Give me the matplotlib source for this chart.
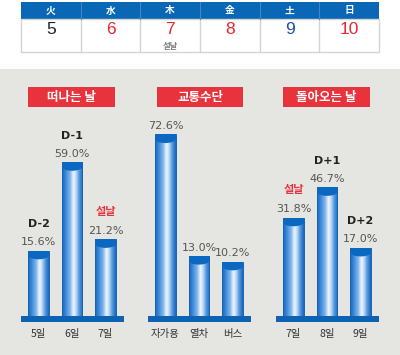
import numpy as np
import matplotlib
matplotlib.use("Agg")
import matplotlib.pyplot as plt
from matplotlib.patches import Rectangle, Ellipse
from matplotlib.colors import LinearSegmentedColormap

plt.rcParams['font.family'] = ['Noto Sans CJK KR', 'DejaVu Sans']

# ---- data ----
cal_days = ['火', '水', '木', '金', '土', '日']
cal_dates = ['5', '6', '7', '8', '9', '10']
cal_colors = ['#222222', '#e8262e', '#e8262e', '#e8262e', '#1f4fa8', '#e8262e']
cal_note = {2: '설날'}

panel_titles = ['떠나는 날', '교통수단', '돌아오는 날']
panel_cats = [['5일', '6일', '7일'], ['자가용', '열차', '버스'], ['7일', '8일', '9일']]
panel_vals = [[15.6, 59.0, 21.2], [72.6, 13.0, 10.2], [31.8, 46.7, 17.0]]
panel_tags = [['D-2', 'D-1', '설날'], ['', '', ''], ['설날', 'D+1', 'D+2']]

W, H = 400, 355
fig = plt.figure(figsize=(W / 100, H / 100), dpi=100)
fig.patch.set_facecolor('white')

def fx(px):
    return px / W

def fy(py):
    return 1 - py / H

# background grey area
fig.patches.append(Rectangle((0, 0), 1, fy(69), transform=fig.transFigure,
                             facecolor='#e5e5e2', edgecolor='none', zorder=0))

# ---- calendar ----
cx0, cx1 = 21, 379
colw = (cx1 - cx0) / 6
fig.patches.append(Rectangle((fx(cx0), fy(19)), fx(cx1 - cx0), (19 - 2) / H,
                             transform=fig.transFigure, facecolor='#0a67b5',
                             edgecolor='none', zorder=1))
fig.patches.append(Rectangle((fx(cx0), fy(52)), fx(cx1 - cx0), (52 - 19) / H,
                             transform=fig.transFigure, facecolor='white',
                             edgecolor='#d4d4d4', lw=1, zorder=1))
for i in range(6):
    xc = cx0 + colw * (i + 0.5)
    if i > 0:
        xl = cx0 + colw * i
        fig.add_artist(plt.Line2D([fx(xl), fx(xl)], [fy(52), fy(19)],
                                  transform=fig.transFigure, color='#d4d4d4', lw=1))
        fig.add_artist(plt.Line2D([fx(xl), fx(xl)], [fy(19), fy(2)],
                                  transform=fig.transFigure, color='#3f86c8', lw=0.8))
    fig.text(fx(xc), fy(10.5), cal_days[i], color='white', fontsize=7,
             ha='center', va='center', fontweight='bold')
    fig.text(fx(xc), fy(29.8), cal_dates[i], color=cal_colors[i], fontsize=12.5,
             ha='center', va='center', family=['Liberation Sans', 'DejaVu Sans'])
    if i in cal_note:
        fig.text(fx(xc), fy(46), cal_note[i], color='#808080', fontsize=6,
                 ha='center', va='center', fontweight='bold')

# ---- bar panels ----
grad = LinearSegmentedColormap.from_list('cyl', [
    (0.0, '#1a66bd'), (0.15, '#3584d6'), (0.38, '#7db4ea'),
    (0.55, '#eef6ff'), (0.66, '#c4ddf6'), (0.82, '#5a9be0'), (1.0, '#1a66bd')])
gimg = np.linspace(0, 1, 64)[None, :]

px_per_unit = 2.04
base_off = 16.4          # bars grow from below zero (visual offset)
base_py = 316            # pixel row of baseline top
strip_px = 6
axes_top_py = 72
panel_left = [21, 148, 276]
panel_width = 103
title_boxes = [(28, 115), (157, 243), (283, 370)]
bar_w = 0.62

ylo = -base_off - strip_px / px_per_unit
yhi = -base_off + (base_py - axes_top_py) / px_per_unit

for p in range(3):
    left = panel_left[p]
    ax = fig.add_axes([fx(left), fy(base_py + strip_px), fx(panel_width),
                       (base_py + strip_px - axes_top_py) / H])
    ax.set_zorder(5)
    ax.axis('off')
    ax.patch.set_alpha(0)
    # baseline strip
    ax.add_patch(Rectangle((-0.52, ylo), 3.07, -base_off - ylo,
                           facecolor='#0d62b4', edgecolor='none', zorder=5))
    vals = panel_vals[p]
    xs = np.arange(len(vals))
    bars = ax.bar(xs, np.array(vals) + base_off, bottom=-base_off, width=bar_w,
                  color='none', edgecolor='#1463b8', linewidth=0.7, zorder=3)
    for b, v in zip(bars, vals):
        x0 = b.get_x()
        im = ax.imshow(gimg, cmap=grad, aspect='auto', zorder=2,
                       extent=(x0, x0 + bar_w, -base_off, v), interpolation='bilinear')
        im.set_clip_path(b)
        cap = 2.2
        ax.add_patch(Rectangle((x0, v - cap), bar_w, cap, facecolor='#0b68c0',
                               edgecolor='none', zorder=3))
        el = Ellipse((x0 + bar_w / 2, v - cap), bar_w, 4.0,
                     facecolor='#0b68c0', edgecolor='none', zorder=3)
        ax.add_patch(el)
        el.set_clip_path(b)
    ax.set_xlim(-0.52, 2.55)
    ax.set_ylim(ylo, yhi)
    for i, v in enumerate(vals):
        ax.annotate(f'{v:.1f}%', (xs[i], v), xytext=(0, 2.5),
                    textcoords='offset points', ha='center', va='bottom',
                    fontsize=8, color='#555555',
                    family=['DejaVu Sans Condensed', 'DejaVu Sans'])
        tag = panel_tags[p][i]
        if tag:
            red = tag == '설날'
            ax.annotate(tag, (xs[i], v), xytext=(0, 15.5),
                        textcoords='offset points', ha='center', va='bottom',
                        fontsize=8, color='#e8323c' if red else '#222222',
                        fontweight='bold',
                        family=['Noto Sans CJK KR', 'DejaVu Sans'] if red else
                        ['DejaVu Sans Condensed', 'DejaVu Sans'])
        ax.text(xs[i], ylo - 12 / px_per_unit, panel_cats[p][i], ha='center',
                va='center', fontsize=7.5, color='#333333', clip_on=False)
    # title box
    tx0, tx1 = title_boxes[p]
    fig.patches.append(Rectangle((fx(tx0), fy(107)), fx(tx1 - tx0), 20 / H,
                                 transform=fig.transFigure, facecolor='#e8323c',
                                 edgecolor='none', zorder=2))
    fig.text(fx((tx0 + tx1) / 2), fy(97.5), panel_titles[p], color='white',
             fontsize=9, fontweight='bold', ha='center', va='center', zorder=3)

fig.savefig('out.png', dpi=100)
